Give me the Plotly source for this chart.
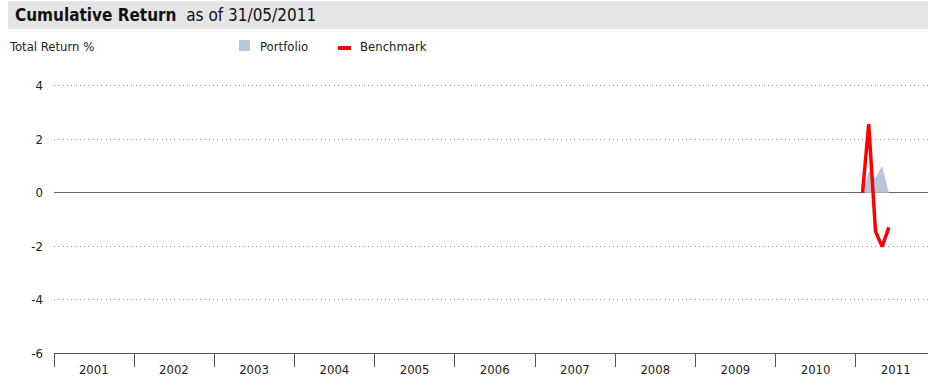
import plotly.graph_objects as go

# ---- data ----
dates = ["2011-01-31", "2011-02-28", "2011-03-31", "2011-04-30", "2011-05-31"]
portfolio = [0.0, 0.8, 0.55, 1.0, 0.0]
benchmark = [0.0, 2.57, -1.45, -2.02, -1.3]
years = [str(y) for y in range(2001, 2012)]
y_ticks = [4, 2, 0, -2, -4, -6]

W, H = 928, 379
L, R, T, B = 54, 0, 80, 26
FONT = "DejaVu Sans Condensed, Liberation Sans Narrow, sans-serif"

def px(xp):
    return (xp - L) / (W - L - R)

def py(yp):
    return 1 - (yp - T) / (H - T - B)

fig = go.Figure()
fig.add_trace(go.Scatter(x=dates, y=portfolio, mode="lines", fill="tozeroy",
                         line=dict(width=0, color="#b8c6d9"), fillcolor="#b8c6d9",
                         name="Portfolio", showlegend=False, hoverinfo="skip"))
fig.add_trace(go.Scatter(x=dates, y=benchmark, mode="lines",
                         line=dict(width=3.5, color="#ff0000"),
                         name="Benchmark", showlegend=False))

boundaries = [f"{y}-01-01" for y in range(2001, 2012)]
centers = [f"{y}-07-01" for y in range(2001, 2012)]

fig.update_xaxes(type="date", range=["2001-01-01", "2011-11-25"],
                 tickvals=centers, ticktext=years, ticks="", showgrid=False,
                 showline=True, linecolor="#555", linewidth=1.3, zeroline=False,
                 ticklabelstandoff=4,
                 tickfont=dict(family=FONT, size=13, color="#222"),
                 minor=dict(tickvals=boundaries, ticks="outside", ticklen=13,
                            tickcolor="#555", tickwidth=1.3, showgrid=False))
fig.update_yaxes(range=[-6, 4.22], tickvals=y_ticks, ticktext=[str(v) for v in y_ticks],
                 showgrid=True, gridcolor="#999999", griddash="1px,3.3px", gridwidth=1,
                 zeroline=True, zerolinecolor="#666", zerolinewidth=1.3,
                 showline=False, ticks="", ticklabelstandoff=10,
                 tickfont=dict(family=FONT, size=13, color="#222"))

shapes = []
shapes.append(dict(type="rect", xref="paper", yref="paper", x0=px(8), x1=px(W), y0=py(29), y1=py(1),
                   fillcolor="#e5e5e5", line=dict(width=0), layer="below"))
shapes.append(dict(type="rect", xref="paper", yref="paper", x0=px(239), x1=px(250), y0=py(51), y1=py(40),
                   fillcolor="#b8c6d9", line=dict(width=0)))
shapes.append(dict(type="rect", xref="paper", yref="paper", x0=px(338), x1=px(351), y0=py(50), y1=py(46),
                   fillcolor="#ff0000", line=dict(width=0)))

annotations = [
    dict(xref="paper", yref="paper", x=px(13), y=py(15), xanchor="left", yanchor="middle",
         text="<b>Cumulative Return</b>  <span style='font-size:17px'>as of 31/05/2011</span>",
         showarrow=False, font=dict(family=FONT, size=17, color="#111")),
    dict(xref="paper", yref="paper", x=px(7), y=py(46), xanchor="left", yanchor="middle",
         text="Total Return %", showarrow=False, font=dict(family=FONT, size=13, color="#222")),
    dict(xref="paper", yref="paper", x=px(258), y=py(46), xanchor="left", yanchor="middle",
         text="Portfolio", showarrow=False, font=dict(family=FONT, size=13, color="#222")),
    dict(xref="paper", yref="paper", x=px(358), y=py(46), xanchor="left", yanchor="middle",
         text="Benchmark", showarrow=False, font=dict(family=FONT, size=13, color="#222")),
]

fig.update_layout(width=W, height=H, margin=dict(l=L, r=R, t=T, b=B, pad=0),
                  paper_bgcolor="white", plot_bgcolor="white",
                  shapes=shapes, annotations=annotations, showlegend=False)

fig.write_html("out.html")
